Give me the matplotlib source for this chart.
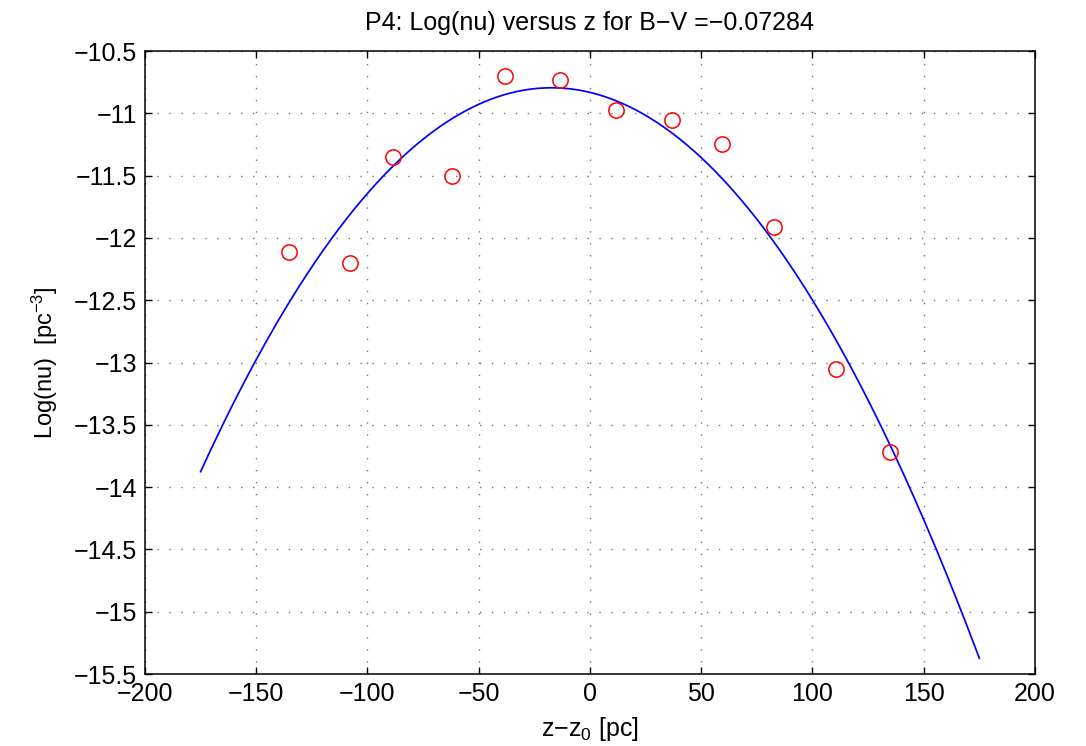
import numpy as np
import matplotlib
matplotlib.use("Agg")
import matplotlib.pyplot as plt
from matplotlib import ticker

# measured points (z - z0 in pc, log density)
z_pc = [-135.3, -107.7, -88.7, -61.9, -38.2, -13.5, 11.7, 36.9, 59.5, 82.8, 110.4, 134.7]
log_nu = [-12.11, -12.20, -11.35, -11.50, -10.70, -10.73, -10.97, -11.05, -11.25, -11.91, -13.055, -13.72]

# quadratic fit: a*z^2 + b*z + c
fit_coef = [-1.2385e-4, -4.280e-3, -10.832]
fit_range = [-175, 175]

xticks = [-200, -150, -100, -50, 0, 50, 100, 150, 200]
yticks = [-15.5, -15, -14.5, -14, -13.5, -13, -12.5, -12, -11.5, -11, -10.5]

plt.rcParams['font.family'] = ['Liberation Sans', 'DejaVu Sans']
plt.rcParams['mathtext.fontset'] = 'custom'
plt.rcParams['mathtext.rm'] = 'Liberation Sans'
plt.rcParams['mathtext.it'] = 'Liberation Sans:italic'

fig = plt.figure(figsize=(10.86, 7.46), dpi=100)
ax = fig.add_axes([0.1335, 0.0965, 0.953 - 0.1335, 0.9316 - 0.0965])

zz = np.linspace(fit_range[0], fit_range[1], 300)
ax.plot(zz, np.polyval(fit_coef, zz), color='blue', lw=1.25)
ax.plot(z_pc, log_nu, 'o', mfc='none', mec='red', ms=11, mew=1.1)

ax.set_xlim(-200, 200)
ax.set_ylim(-15.5, -10.5)
ax.set_xticks(xticks)
ax.set_yticks(yticks)
fmt = ticker.FuncFormatter(lambda v, p: ('%g' % v).replace('-', '\u2212'))
ax.xaxis.set_major_formatter(fmt)
ax.yaxis.set_major_formatter(fmt)

ax.grid(True, color='0.45', lw=1.0, linestyle=(0, (1, 7.6)))
ax.tick_params(direction='in', length=5, width=1.0, top=True, right=True,
               labelsize=18)
ax.tick_params(axis='y', pad=5.5)
ax.tick_params(axis='x', pad=6)
for s in ax.spines.values():
    s.set_linewidth(1.1)

ax.set_title('P4: Log(nu) versus z for B\u2212V =\u22120.07284', fontsize=18, pad=15)
ax.set_xlabel('z\u2212z$_0$ [pc]', fontsize=18, labelpad=6)
ax.set_ylabel('Log(nu)  [pc$^{\u22123}$]', fontsize=17, labelpad=10)

fig.savefig('out.png', dpi=100)
